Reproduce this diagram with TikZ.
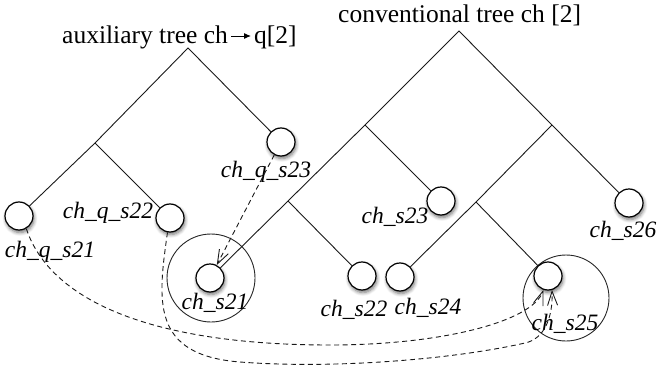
\documentclass[tikz,border=0pt]{standalone}
\usepackage{fontspec}
\setmainfont{Liberation Serif}
\usetikzlibrary{arrows.meta,shadows.blur,calc}

\begin{document}
\begin{tikzpicture}[x=1pt,y=-1pt,
  branch/.style={draw=black!90, line width=0.9pt},
  leaf/.style={circle, draw=black, line width=1.2pt, fill=white, minimum size=28pt, inner sep=0pt,
    blur shadow={shadow xshift=1pt, shadow yshift=-2.5pt, shadow blur steps=6, shadow blur radius=3.5pt, shadow opacity=55}},
  ring/.style={circle, draw=black!85, line width=0.9pt, inner sep=0pt},
  lab/.style={font=\fontsize{23.5}{24}\selectfont\itshape, inner sep=0pt, anchor=base},
  ttl/.style={font=\fontsize{25.5}{26}\selectfont, inner sep=0pt, anchor=base west},
  link/.style={draw=black!90, line width=0.9pt, dash pattern=on 5pt off 3.5pt},
  openhead/.style={-{Straight Barb[length=14pt,width=10pt]}}
]
\useasboundingbox (0,0) rectangle (659,372);

% titles
\node[ttl] (t1) at (62,43) {auxiliary tree ch};
\node[ttl] (t1q) at (254,43) {q[2]};
\draw[line width=1pt, -{Latex[length=7pt,width=6pt]}]
  ($(t1.base east)+(3,-7)$) -- ($(t1q.base west)+(-3,-7)$);
\node[ttl] (t2) at (338,23) {conventional tree ch [2]};

% rings around the matched nodes
\node[ring, minimum size=88pt] (r21) at (211,278) {};
\node[ring, minimum size=86pt] (r25) at (566,298) {};

% auxiliary tree
\coordinate (aroot) at (188,48);
\coordinate (aint) at (95,143);
\node[leaf] (qs21) at (19,216) {};
\node[leaf] (qs22) at (170,218) {};
\node[leaf] (qs23) at (281,142) {};
\draw[branch] (qs21) -- (aint) -- (aroot) -- (qs23);
\draw[branch] (aint) -- (qs22);

% conventional tree
\coordinate (croot) at (459,31);
\coordinate (cL) at (365,125);
\coordinate (cR) at (552,125);
\coordinate (cLL) at (288,201);
\coordinate (cRL) at (476,202);
\node[leaf] (s21) at (210,278) {};
\node[leaf] (s22) at (362,276) {};
\node[leaf] (s23) at (441,201) {};
\node[leaf] (s24) at (400,277) {};
\node[leaf] (s25) at (548,276) {};
\node[leaf] (s26) at (629,203) {};
\draw[branch] (s21) -- (cLL) -- (cL) -- (croot) -- (cR) -- (s26);
\draw[branch] (cLL) -- (s22);
\draw[branch] (cL) -- (s23);
\draw[branch] (cR) -- (cRL) -- (s24);
\draw[branch] (cRL) -- (s25);

% labels
\node[lab] (lq21) at (50,257) {ch\_q\_s21};
\node[lab] (lq22) at (108,218) {ch\_q\_s22};
\node[lab] (lq23) at (266,177) {ch\_q\_s23};
\node[lab] (l21) at (215,309) {ch\_s21};
\node[lab] (l22) at (354,316) {ch\_s22};
\node[lab] (l23) at (395,223) {ch\_s23};
\node[lab] (l24) at (428,314) {ch\_s24};
\node[lab] (l25) at (565,330) {ch\_s25};
\node[lab] (l26) at (623,237) {ch\_s26};

% mapping links
\draw[link, openhead] (qs23) -- (s21);
\draw[link, openhead] (qs21.-60) .. controls (50,300) and (150,345) .. (330,345)
  .. controls (440,345) and (532,322) .. (s25.-108);
\draw[link, openhead] (qs22.-100) .. controls (158,300) and (150,355) .. (240,362)
  .. controls (330,369) and (450,360) .. (525,343)
  .. controls (544,339) and (553,318) .. (s25.-74);
\end{tikzpicture}
\end{document}
